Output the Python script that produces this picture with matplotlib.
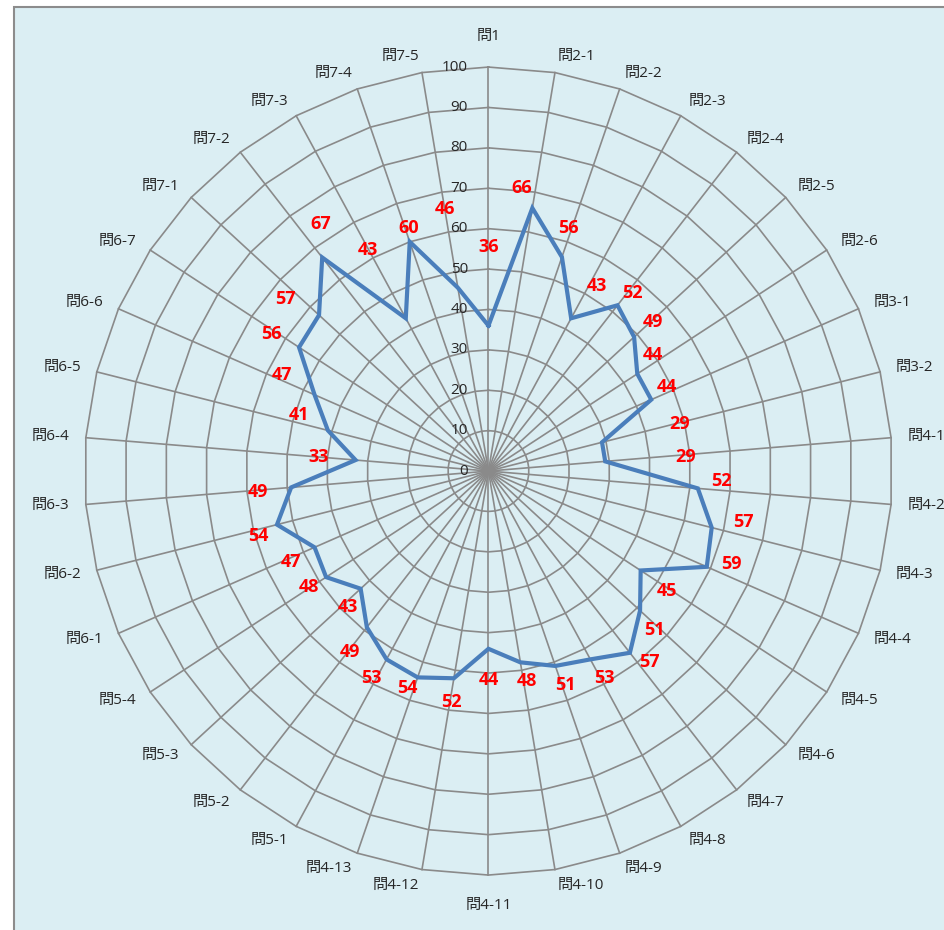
import numpy as np
import matplotlib.pyplot as plt
from matplotlib.patches import Rectangle

plt.rcParams['font.family'] = ['Open Sans', 'Noto Sans CJK JP', 'DejaVu Sans']

# 設問ごとの平均点
categories = (
    ["問1"]
    + [f"問2-{i}" for i in range(1, 7)]
    + [f"問3-{i}" for i in range(1, 3)]
    + [f"問4-{i}" for i in range(1, 14)]
    + [f"問5-{i}" for i in range(1, 5)]
    + [f"問6-{i}" for i in range(1, 8)]
    + [f"問7-{i}" for i in range(1, 6)]
)

scores = [36, 66, 56, 43, 52, 49, 44, 44, 29,
          29, 52, 57, 59, 45, 51, 57, 53, 51, 48, 44, 52, 54,
          53, 49, 43, 48,
          47, 54, 49, 33, 41, 47, 56,
          57, 67, 43, 60, 46]

rings = list(range(0, 101, 10))

# データラベルの位置（半径, 角度[度]）
label_r = [55.4, 70.5, 63.4, 53.1, 56.6, 54.9, 49.8, 48.8, 48.8,
           49.0, 57.8, 64.3, 64.3, 53.2, 56.8, 61.9, 58.7, 56.3, 52.8, 51.7, 57.9, 57.4,
           58.8, 56.4, 48.4, 52.9,
           53.8, 59.3, 57.3, 42.1, 48.9, 56.4, 63.6,
           65.9, 73.9, 62.3, 63.3, 65.7]
label_ang = [0.1, 6.8, 18.3, 30.4, 38.9, 47.8, 54.8, 64.8, 76.2,
             85.9, 92.5, 101.3, 111.0, 123.9, 133.8, 139.8, 150.8, 160.1, 169.6, 179.9, 189.0, 200.6,
             209.4, 217.4, 225.9, 237.1,
             245.3, 254.3, 264.8, 274.7, 286.5, 294.9, 302.2,
             310.2, 325.9, 331.4, 341.9, 350.6]

n = len(categories)
theta = np.arange(n) * 2 * np.pi / n


def polar_xy(r, t):
    return np.asarray(r) * np.sin(t), np.asarray(r) * np.cos(t)


fig = plt.figure(figsize=(9.45, 9.3), dpi=100)
ax = fig.add_axes([0, 0, 1, 1])
ax.set_xlim(-120.9, 113.0)
ax.set_ylim(-113.6, 116.6)
ax.axis("off")

# グラフエリア
ax.add_patch(Rectangle((14 / 945, -0.1), 1.2, 0.1 + 923 / 930,
                       transform=fig.transFigure, facecolor="#DBEEF3",
                       edgecolor="#8C8C8C", linewidth=1.5, zorder=0, clip_on=False))

grid_col = "#8A8A8A"

# 目盛りの多角形
for r in rings[1:]:
    gx, gy = polar_xy(np.full(n + 1, r), np.append(theta, theta[0]))
    ax.plot(gx, gy, color=grid_col, lw=1.2, zorder=1)

# 放射線
for t in theta:
    sx, sy = polar_xy([0, 100], [t, t])
    ax.plot(sx, sy, color=grid_col, lw=1.2, zorder=1)

# 目盛りラベル
for r in rings:
    ax.text(-5.1, r, str(r), ha="right", va="center", fontsize=11, color="#262626", zorder=3)

# 項目ラベル
for name, t in zip(categories, theta):
    s = np.sin(t)
    if abs(s) < 0.05:
        tx, ty = polar_xy(107.5, t)
        ha = "center"
    else:
        tx, ty = polar_xy(104, t)
        ha = "left" if s > 0 else "right"
    ax.text(tx, ty, name, ha=ha, va="center", fontsize=11, color="#262626", zorder=3)

# データ系列
lx, ly = polar_xy(np.append(scores, scores[0]), np.append(theta, theta[0]))
ax.plot(lx, ly, color="#4A7EBB", lw=3, solid_joinstyle="miter", zorder=4)

# データラベル
for v, r, a in zip(scores, label_r, label_ang):
    tx, ty = polar_xy(r, np.deg2rad(a))
    ax.text(tx, ty, str(v), ha="center", va="center", fontsize=13,
            fontweight="bold", color="#FF0000", zorder=5)

fig.savefig("out.png", dpi=100)
